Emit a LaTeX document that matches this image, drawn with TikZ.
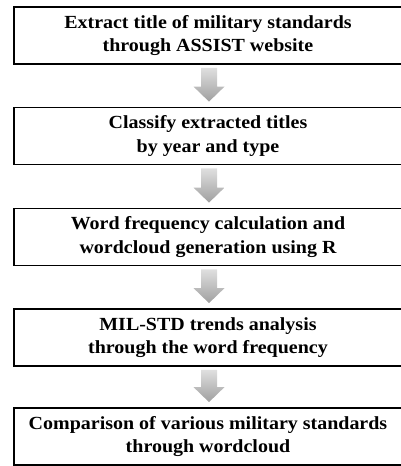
\documentclass[tikz,border=0pt]{standalone}
\usepackage{fontspec}
\setmainfont{Liberation Serif}[FakeStretch=1.08]
\usetikzlibrary{calc}
\tikzset{
  stepbox/.style={draw=black, line width=1.8pt, minimum width=388pt, minimum height=57pt,
    align=center, font=\bfseries\fontsize{18.5}{23.5}\selectfont, inner sep=0pt},
  arrowfill/.style={top color=gray!25, bottom color=gray!75, draw=none}
}
\begin{document}
\begin{tikzpicture}[x=1pt,y=1pt]
\useasboundingbox (0,0) rectangle (401,-466);
\node[stepbox] (b1) at (208,-35.5) {Extract title of military standards\\through ASSIST website};
\node[stepbox] (b2) at (208,-136) {Classify extracted titles\\by year and type};
\node[stepbox] (b3) at (208,-237) {Word frequency calculation and\\wordcloud generation using R};
\node[stepbox] (b4) at (208,-337.5) {MIL-STD trends analysis\\through the word frequency};
\node[stepbox] (b5) at (208,-436.5) {Comparison of various military standards\\through wordcloud};
\foreach \a/\b in {b1/b2,b2/b3,b3/b4,b4/b5}{
  \shade[arrowfill] ($(\a.south)+(-7,-3)$) -- ($(\a.south)+(9,-3)$) -- ($(\b.north)+(9,20)$)
    -- ($(\b.north)+(16.5,20)$) -- ($(\b.north)+(1,5)$) -- ($(\b.north)+(-14.5,20)$)
    -- ($(\b.north)+(-7,20)$) -- cycle;
}
\end{tikzpicture}
\end{document}
